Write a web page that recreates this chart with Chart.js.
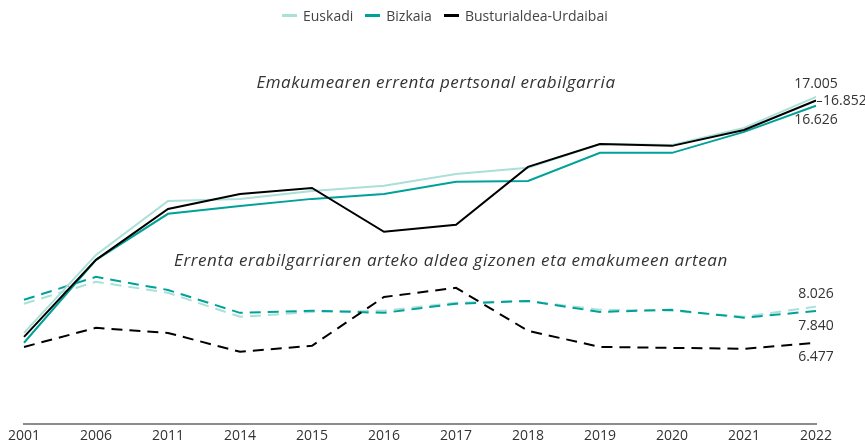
<!DOCTYPE html>
<html>
<head>
<meta charset="utf-8">
<script src="https://cdn.jsdelivr.net/npm/chart.js@4"></script>
<style>
  body { margin: 0; background: #fff; font-family: "Open Sans", sans-serif; }
  #wrap { position: relative; width: 865px; height: 444px; }
  #legend { position: absolute; top: 6px; left: 282px; display: flex; align-items: center; font-size: 14px; color: #444; }
  #legend span.item { display: flex; align-items: center; margin-right: 12px; }
  #legend span.box { display: inline-block; width: 15px; height: 3px; margin-right: 6px; }
</style>
</head>
<body>
<div id="wrap">
  <canvas id="lineChart" width="865" height="444"></canvas>
  <div id="legend"></div>
</div>
<script>
const years = ['2001', '2006', '2011', '2014', '2015', '2016', '2017', '2018', '2019', '2020', '2021', '2022'];
const regions = ['Euskadi', 'Bizkaia', 'Busturialdea-Urdaibai'];
const colors = ['#a9e0d7', '#00a199', '#000000'];

// Emakumearen errenta pertsonal erabilgarria (€)
const rentaEuskadi = [6900, 10240, 12550, 12640, 12980, 13200, 13710, 13970, 14990, 14950, 15680, 17005];
const rentaBizkaia = [6480, 10030, 12000, 12340, 12640, 12850, 13370, 13410, 14610, 14610, 15510, 16626];
const rentaBusturialdea = [6730, 10030, 12210, 12850, 13110, 11230, 11530, 14010, 14990, 14910, 15590, 16852];

// Errenta erabilgarriaren arteko aldea gizonen eta emakumeen artean (€)
const aldeaEuskadi = [8150, 9090, 8620, 7590, 7800, 7850, 8190, 8270, 7890, 7850, 7590, 8026];
const aldeaBizkaia = [8320, 9300, 8740, 7760, 7850, 7760, 8150, 8270, 7800, 7890, 7550, 7840];
const aldeaBusturialdea = [6300, 7120, 6900, 6090, 6350, 8440, 8830, 6990, 6300, 6260, 6220, 6477];

const rentaSeries = [rentaEuskadi, rentaBizkaia, rentaBusturialdea];
const aldeaSeries = [aldeaEuskadi, aldeaBizkaia, aldeaBusturialdea];

const datasets = [];
regions.forEach((name, i) => {
    datasets.push({
        label: name,
        data: rentaSeries[i],
        borderColor: colors[i],
        borderWidth: 2,
        pointRadius: 0,
        tension: 0,
        fill: false,
        order: 2 - i
    });
});
regions.forEach((name, i) => {
    datasets.push({
        label: name + ' (aldea)',
        data: aldeaSeries[i],
        borderColor: colors[i],
        borderWidth: 2,
        borderDash: [11, 7],
        pointRadius: 0,
        tension: 0,
        fill: false,
        order: 5 - i
    });
});

// end labels + titles
const annotations = {
    id: 'annotations',
    afterDatasetsDraw(chart) {
        const c = chart.ctx;
        const last = years.length - 1;
        const pt = (ds) => chart.getDatasetMeta(ds).data[last];
        const fmt = (v) => v.toLocaleString('de-DE');
        c.save();
        c.fillStyle = '#333';
        c.textBaseline = 'middle';

        c.font = 'italic 17px "Open Sans"';
        c.letterSpacing = '0.5px';
        c.textAlign = 'center';
        c.fillText('Emakumearen errenta pertsonal erabilgarria', 436, 83);
        c.letterSpacing = '0.6px';
        c.fillText('Errenta erabilgarriaren arteko aldea gizonen eta emakumeen artean', 451, 261);
        c.letterSpacing = '0px';

        c.font = '14px "Open Sans"';
        let p = pt(0);
        c.fillText(fmt(rentaEuskadi[last]), p.x, p.y - 13);
        p = pt(2);
        c.textAlign = 'left';
        c.fillText(fmt(rentaBusturialdea[last]), p.x + 7, p.y + 1);
        c.strokeStyle = '#333';
        c.lineWidth = 1;
        c.beginPath();
        c.moveTo(p.x + 1, p.y + 1);
        c.lineTo(p.x + 6, p.y + 1);
        c.stroke();
        c.textAlign = 'center';
        p = pt(1);
        c.fillText(fmt(rentaBizkaia[last]), p.x, p.y + 14);
        p = pt(3);
        c.fillText(fmt(aldeaEuskadi[last]), p.x, p.y - 13);
        p = pt(4);
        c.fillText(fmt(aldeaBizkaia[last]), p.x, p.y + 15);
        p = pt(5);
        c.fillText(fmt(aldeaBusturialdea[last]), p.x, p.y + 14);
        c.restore();
    }
};

const ctxLine = document.getElementById('lineChart').getContext('2d');
const lineChart = new Chart(ctxLine, {
    type: 'line',
    data: {
        labels: years,
        datasets: datasets
    },
    options: {
        responsive: false,
        animation: false,
        devicePixelRatio: 1,
        layout: { padding: { top: 27, left: 24, right: 49, bottom: 0 } },
        plugins: {
            legend: { display: false },
            tooltip: { enabled: false }
        },
        scales: {
            x: {
                offset: false,
                grid: { display: false, drawTicks: false },
                border: { display: true, color: '#8c8c8c', width: 2 },
                ticks: {
                    color: '#333',
                    font: { family: 'Open Sans', size: 14 },
                    padding: 4,
                    maxRotation: 0,
                    autoSkip: false
                },
                afterFit: (scale) => { scale.height = 20; }
            },
            y: {
                display: false,
                min: 3000,
                max: 20000
            }
        }
    },
    plugins: [annotations]
});

// simple legend, only the three regions
const legend = document.getElementById('legend');
regions.forEach((name, i) => {
    const item = document.createElement('span');
    item.className = 'item';
    const box = document.createElement('span');
    box.className = 'box';
    box.style.background = colors[i];
    item.appendChild(box);
    item.appendChild(document.createTextNode(name));
    legend.appendChild(item);
});
</script>
</body>
</html>
